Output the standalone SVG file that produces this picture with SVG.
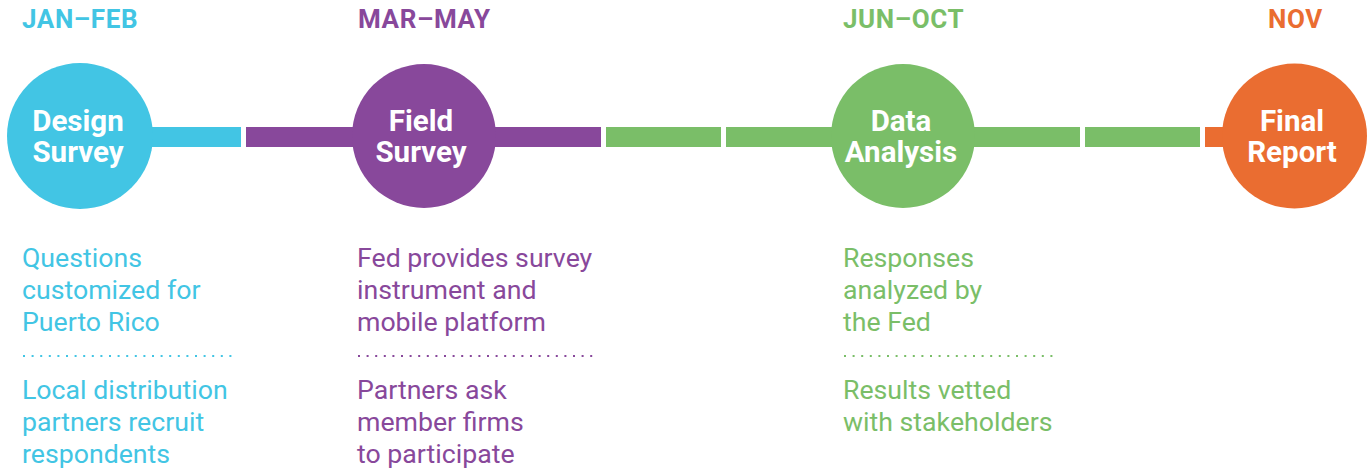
<svg xmlns="http://www.w3.org/2000/svg" width="1368" height="469" viewBox="0 0 1368 469">
<style>
.hd{font-family:Roboto,"Liberation Sans",sans-serif;font-weight:700;font-size:26px;letter-spacing:0.6px}
.cl{font-family:Roboto,"Liberation Sans",sans-serif;font-weight:700;font-size:29.5px;fill:#fff;text-anchor:middle}
.bd{font-family:Roboto,"Liberation Sans",sans-serif;font-weight:400;font-size:26.7px}
.dot{stroke-width:2;stroke-dasharray:2 6.6;fill:none}
.c1{fill:#42C5E4}.s1{stroke:#42C5E4}
.c2{fill:#88489B}.s2{stroke:#88489B}
.c3{fill:#7ABE68}.s3{stroke:#7ABE68}
.c4{fill:#EA6D31}.s4{stroke:#EA6D31}
</style>
<rect width="1368" height="469" fill="#fff"/>
<g id="connectors">
<rect class="c1" x="80" y="127" width="161" height="20"/>
<rect class="c2" x="246" y="127" width="355" height="20"/>
<rect class="c3" x="606" y="127" width="115" height="20"/>
<rect class="c3" x="726" y="127" width="354" height="20"/>
<rect class="c3" x="1085" y="127" width="115" height="20"/>
<rect class="c4" x="1205" y="127" width="90" height="20"/>
</g>
<g id="design-survey">
<text class="hd c1" x="22" y="28">JAN–FEB</text>
<circle class="c1" cx="80" cy="136" r="73"/>
<text class="cl" x="78" y="131">Design</text>
<text class="cl" x="78" y="162">Survey</text>
<text class="bd c1" x="22" y="267">Questions</text>
<text class="bd c1" x="22" y="299">customized for</text>
<text class="bd c1" x="22" y="331">Puerto Rico</text>
<line class="dot s1" x1="23" y1="356" x2="234" y2="356"/>
<text class="bd c1" x="22" y="399">Local distribution</text>
<text class="bd c1" x="22" y="431">partners recruit</text>
<text class="bd c1" x="22" y="463">respondents</text>
</g>
<g id="field-survey">
<text class="hd c2" x="358" y="28">MAR–MAY</text>
<circle class="c2" cx="424" cy="136" r="72"/>
<text class="cl" x="421" y="131">Field</text>
<text class="cl" x="421" y="162">Survey</text>
<text class="bd c2" x="357" y="267">Fed provides survey</text>
<text class="bd c2" x="357" y="299">instrument and</text>
<text class="bd c2" x="357" y="331">mobile platform</text>
<line class="dot s2" x1="358" y1="356" x2="597" y2="356"/>
<text class="bd c2" x="357" y="399">Partners ask</text>
<text class="bd c2" x="357" y="431">member firms</text>
<text class="bd c2" x="357" y="463">to participate</text>
</g>
<g id="data-analysis">
<text class="hd c3" x="843" y="28">JUN–OCT</text>
<circle class="c3" cx="903" cy="136" r="72"/>
<text class="cl" x="901" y="131">Data</text>
<text class="cl" x="901" y="162">Analysis</text>
<text class="bd c3" x="843" y="267">Responses</text>
<text class="bd c3" x="843" y="299">analyzed by</text>
<text class="bd c3" x="843" y="331">the Fed</text>
<line class="dot s3" x1="844" y1="356" x2="1055" y2="356"/>
<text class="bd c3" x="843" y="399">Results vetted</text>
<text class="bd c3" x="843" y="431">with stakeholders</text>
</g>
<g id="final-report">
<text class="hd c4" x="1268" y="28">NOV</text>
<circle class="c4" cx="1294.5" cy="136" r="72.5"/>
<text class="cl" x="1292" y="131">Final</text>
<text class="cl" x="1292" y="162">Report</text>
</g>
</svg>
